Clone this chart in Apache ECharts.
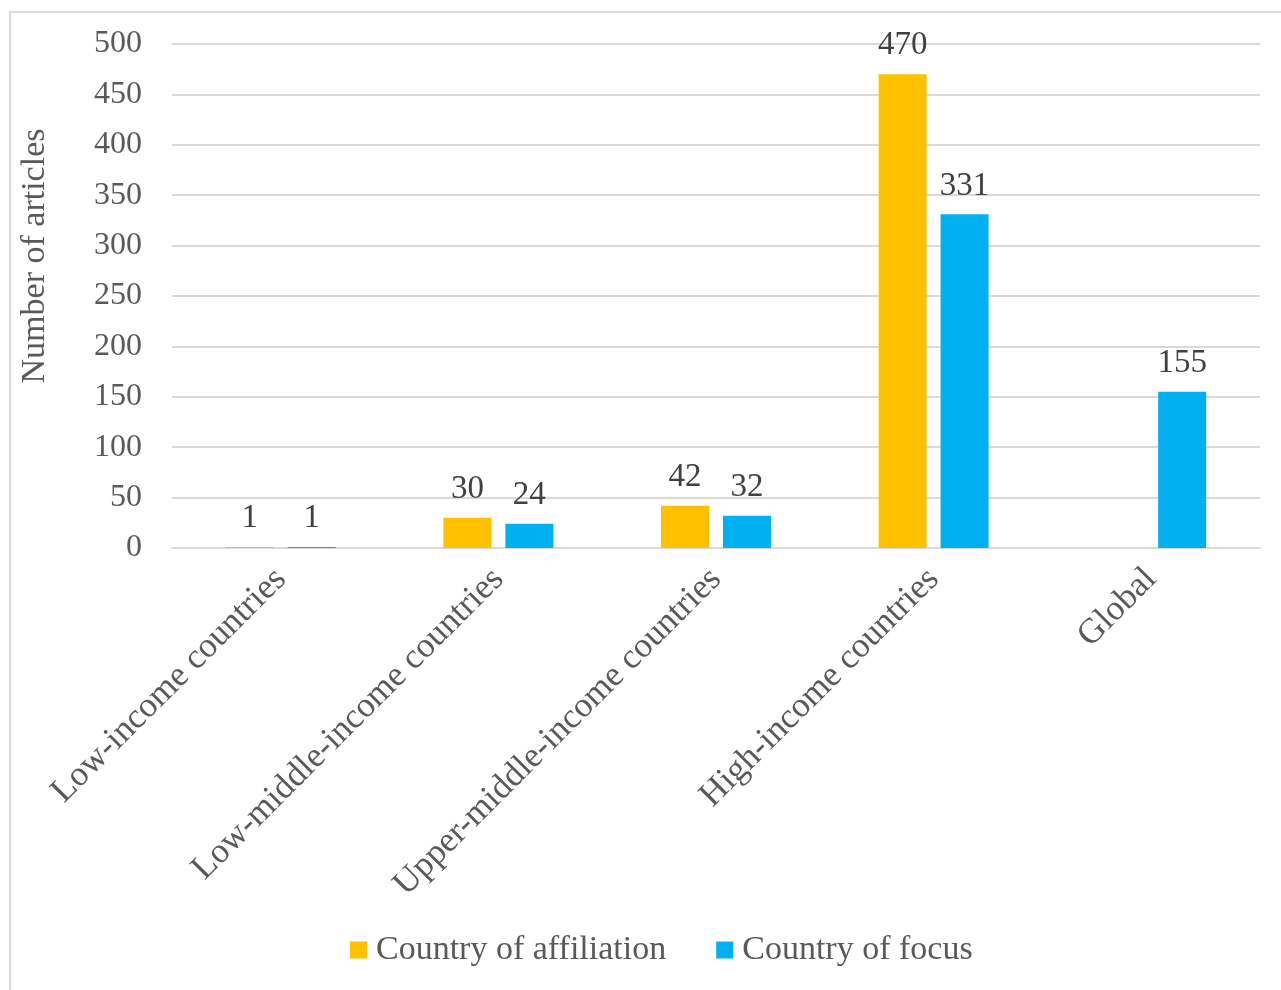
<!DOCTYPE html>
<html>
<head>
<meta charset="utf-8">
<script src="https://cdn.jsdelivr.net/npm/echarts@6/dist/echarts.min.js"></script>
<style>
  html, body { margin: 0; padding: 0; background: #fff; }
  #main { width: 1281px; height: 990px; }
</style>
</head>
<body>
<div id="main"></div>
<script>
// income groups on the x axis
var categories = ['Low-income countries', 'Low-middle-income countries', 'Upper-middle-income countries', 'High-income countries', 'Global'];
var affiliation = [1, 30, 42, 470, null];
var focus = [1, 24, 32, 331, 155];
var seriesNames = ['Country of affiliation', 'Country of focus'];

var chart = echarts.init(document.getElementById('main'));

var font = 'Liberation Serif, Times New Roman, serif';
var labelStyle = {
    show: true,
    position: 'top',
    distance: 12,
    fontFamily: font,
    fontSize: 33,
    color: '#404040'
};

var option = {
    animation: false,
    graphic: [{
        type: 'rect',
        shape: { x: 10, y: 12, width: 1290, height: 1000 },
        style: { fill: 'none', stroke: '#d9d9d9', lineWidth: 2 }
    }],
    grid: { left: 172, right: 21, top: 44, bottom: 442 },
    legend: {
        bottom: 18,
        left: 345,
        itemWidth: 17,
        itemHeight: 17,
        itemGap: 50,
        icon: 'rect',
        textStyle: { fontFamily: font, fontSize: 34, color: '#595959', padding: [0, 0, 0, 4] },
        data: seriesNames
    },
    xAxis: {
        type: 'category',
        data: categories,
        axisLine: { lineStyle: { color: '#d9d9d9', width: 2 } },
        axisTick: { show: false },
        axisLabel: {
            rotate: 45,
            margin: 26,
            fontFamily: font,
            fontSize: 35,
            color: '#595959',
            interval: 0
        }
    },
    yAxis: {
        type: 'value',
        min: 0,
        max: 500,
        interval: 50,
        name: 'Number of articles',
        nameLocation: 'middle',
        nameGap: 120,
        nameTextStyle: { fontFamily: font, fontSize: 34, color: '#595959', padding: [0, 0, 0, 80] },
        axisLine: { show: false },
        axisTick: { show: false },
        axisLabel: { fontFamily: font, fontSize: 32, color: '#595959', margin: 30 },
        splitLine: { lineStyle: { color: '#d9d9d9', width: 2 } }
    },
    series: [{
        name: seriesNames[0],
        type: 'bar',
        data: affiliation,
        barWidth: 48,
        barGap: '29%',
        itemStyle: { color: '#FFC000' },
        label: labelStyle
    }, {
        name: seriesNames[1],
        type: 'bar',
        data: focus,
        barWidth: 48,
        barGap: '29%',
        itemStyle: { color: '#00B0F0' },
        label: labelStyle
    }]
};

chart.setOption(option);
</script>
</body>
</html>
